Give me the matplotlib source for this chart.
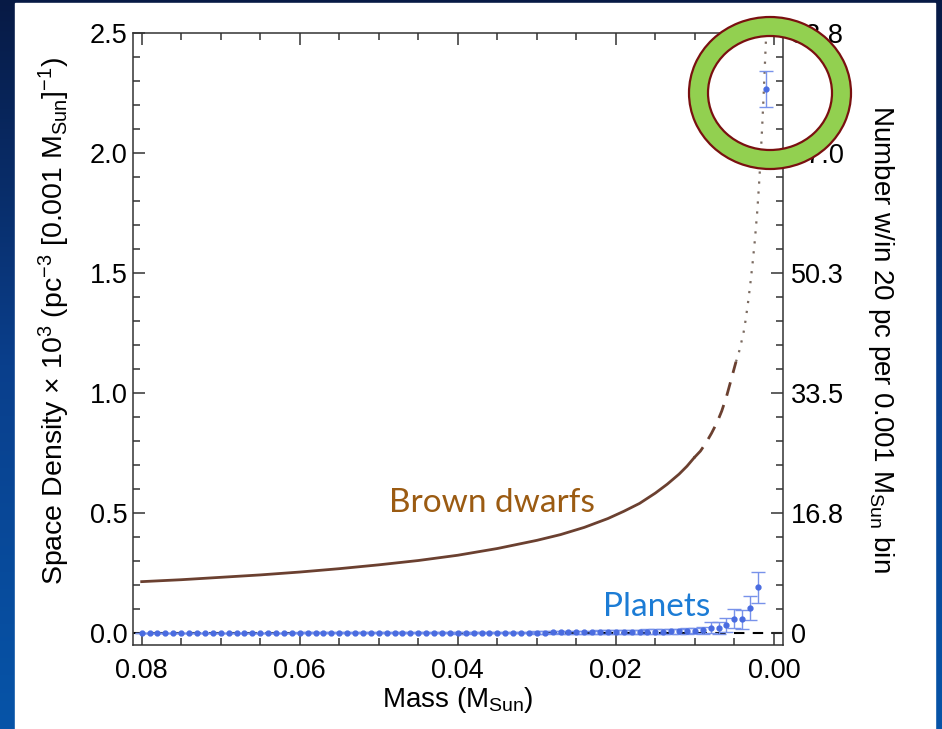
import numpy as np
import matplotlib
matplotlib.use("Agg")
import matplotlib.pyplot as plt
from matplotlib.patches import Annulus, Rectangle
from matplotlib.transforms import IdentityTransform

plt.rcParams['font.family'] = ['Liberation Sans', 'DejaVu Sans']
plt.rcParams['mathtext.fontset'] = 'custom'
plt.rcParams['mathtext.rm'] = 'Liberation Sans'
plt.rcParams['mathtext.it'] = 'Liberation Sans:italic'
plt.rcParams['mathtext.default'] = 'rm'

# ---- data ----
# brown dwarf model curve (mass in M_Sun, space density x 1e3)
bd_solid_mass = [0.080, 0.075, 0.070, 0.065, 0.060, 0.055, 0.050, 0.045, 0.040,
                 0.035, 0.030, 0.027, 0.024, 0.021, 0.019, 0.017, 0.015,
                 0.0135, 0.012, 0.011, 0.0101]
bd_solid_val = [0.214, 0.222, 0.232, 0.242, 0.254, 0.268, 0.284, 0.302, 0.324,
                0.352, 0.386, 0.410, 0.440, 0.477, 0.507, 0.540, 0.583,
                0.620, 0.662, 0.695, 0.730]
bd_dash_mass = [0.0101, 0.0093, 0.0086, 0.0079, 0.0072, 0.0066, 0.0060, 0.0055, 0.0048]
bd_dash_val = [0.730, 0.758, 0.792, 0.832, 0.877, 0.925, 0.985, 1.045, 1.130]
bd_dot_mass = [0.0048, 0.0045, 0.0042, 0.00385, 0.0036, 0.0033, 0.0030, 0.0027,
               0.0024, 0.0021, 0.0019, 0.0017, 0.0015, 0.0013, 0.0011, 0.00097]
bd_dot_val = [1.130, 1.160, 1.200, 1.250, 1.300, 1.370, 1.450, 1.540,
              1.640, 1.760, 1.860, 1.970, 2.100, 2.240, 2.400, 2.500]

# planets, one point per 0.001 M_Sun bin (0.080 ... 0.001)
planet_mass = np.round(np.arange(80, 0, -1) * 0.001, 3)
planet_val = [
    0.000, 0.000, 0.000, 0.000, 0.000, 0.000, 0.000, 0.000, 0.000, 0.000,
    0.000, 0.000, 0.000, 0.000, 0.000, 0.000, 0.000, 0.000, 0.000, 0.000,
    0.001, 0.001, 0.001, 0.001, 0.001, 0.001, 0.001, 0.001, 0.001, 0.001,
    0.001, 0.001, 0.001, 0.001, 0.001, 0.001, 0.001, 0.001, 0.001, 0.001,
    0.001, 0.001, 0.002, 0.002, 0.002, 0.002, 0.002, 0.002, 0.002, 0.002,
    0.002, 0.002, 0.003, 0.003, 0.003, 0.003, 0.003, 0.003, 0.004, 0.004,
    0.004, 0.004, 0.005, 0.005, 0.005, 0.006, 0.006, 0.007, 0.007, 0.008,
    0.010, 0.012, 0.022, 0.020, 0.033, 0.060, 0.057, 0.103, 0.190, 2.265,
]
planet_err = [
    0.002, 0.002, 0.002, 0.002, 0.002, 0.002, 0.002, 0.002, 0.002, 0.002,
    0.002, 0.002, 0.002, 0.002, 0.002, 0.002, 0.002, 0.002, 0.002, 0.002,
    0.003, 0.003, 0.003, 0.003, 0.003, 0.003, 0.003, 0.003, 0.003, 0.003,
    0.003, 0.003, 0.003, 0.003, 0.003, 0.003, 0.003, 0.003, 0.003, 0.003,
    0.004, 0.004, 0.004, 0.004, 0.004, 0.004, 0.004, 0.004, 0.004, 0.004,
    0.005, 0.005, 0.005, 0.006, 0.006, 0.006, 0.007, 0.007, 0.007, 0.008,
    0.008, 0.008, 0.009, 0.009, 0.010, 0.010, 0.010, 0.011, 0.011, 0.012,
    0.012, 0.015, 0.022, 0.025, 0.030, 0.040, 0.040, 0.050, 0.063, 0.075,
]

left_ticks = [0.0, 0.5, 1.0, 1.5, 2.0, 2.5]
left_ticklabels = ['0.0', '0.5', '1.0', '1.5', '2.0', '2.5']
right_ticklabels = ['0', '16.8', '33.5', '50.3', '67.0', '83.8']
x_ticks = [0.08, 0.06, 0.04, 0.02, 0.00]
x_ticklabels = ['0.08', '0.06', '0.04', '0.02', '0.00']

W, H = 942, 729
fig = plt.figure(figsize=(W / 100, H / 100), dpi=100)

# blue slide background with white panel
bg = fig.add_axes([0, 0, 1, 1], zorder=-10)
grad = np.linspace(0, 1, 256).reshape(-1, 1)
cmap = matplotlib.colors.LinearSegmentedColormap.from_list('slide', ['#071a45', '#0a3f8c', '#0654a8'])
bg.imshow(grad, aspect='auto', cmap=cmap, extent=[0, 1, 0, 1], origin='upper')
bg.add_patch(Rectangle((15 / W, 0), 920 / W, 1 - 3 / H, color='white', transform=bg.transAxes))
bg.set_xlim(0, 1)
bg.set_ylim(0, 1)
bg.axis('off')

ax = fig.add_axes([133 / W, 1 - 645 / H, 650 / W, 612 / H])
ax.patch.set_alpha(0)

# zero line
ax.plot([0.081, -0.0012], [0, 0], color='black', lw=1.5, ls=(0, (5, 4)), zorder=2)

# brown dwarfs
bd_col = '#6b4030'
ax.plot(bd_solid_mass, bd_solid_val, color=bd_col, lw=2.0, zorder=3)
ax.plot(bd_dash_mass, bd_dash_val, color=bd_col, lw=2.0, ls=(0, (5, 3.5)), zorder=3)
ax.plot(bd_dot_mass, bd_dot_val, color='#7a6a60', lw=1.6, ls=(0, (1, 3.5)), zorder=3)

# planets
ax.errorbar(planet_mass, planet_val, yerr=planet_err, fmt='o', color='#4a6ce0',
            ecolor='#7892ea', elinewidth=1.0, capsize=5, capthick=1.0,
            markersize=3.5, zorder=4)

ax.set_xlim(0.0811, -0.00115)
ax.set_ylim(-0.05, 2.5)
ax.set_xticks(x_ticks)
ax.set_xticklabels(x_ticklabels)
ax.set_xticks(np.round(np.arange(0.080, -0.0001, -0.005), 3), minor=True)
ax.set_yticks(left_ticks)
ax.set_yticklabels(left_ticklabels)
ax.set_yticks(np.round(np.arange(0, 2.51, 0.1), 2), minor=True)
ax.tick_params(which='both', direction='in', top=True, right=False,
               colors='#333333', width=1.1, labelcolor='black', labelsize=19.5)
ax.tick_params(which='major', length=8.5)
ax.tick_params(which='minor', length=5)
ax.tick_params(axis='x', pad=9)
ax.tick_params(axis='y', pad=4)
for s in ax.spines.values():
    s.set_color('#333333')
    s.set_linewidth(1.1)

ax.set_xlabel('Mass (M$_{\\mathrm{Sun}}$)', fontsize=20, labelpad=1)
ax.set_ylabel('Space Density \u00d7 10$^{3}$ (pc$^{-3}$ [0.001 M$_{\\mathrm{Sun}}$]$^{-1}$)',
              fontsize=20.5)
ax.yaxis.set_label_coords(-0.094, 0.53)

axr = ax.twinx()
axr.set_ylim(ax.get_ylim())
axr.set_yticks(left_ticks)
axr.set_yticklabels(right_ticklabels)
axr.set_yticks(np.round(np.arange(0, 2.51, 0.1), 2), minor=True)
axr.tick_params(which='both', direction='in', colors='#333333', width=1.1,
                labelcolor='black', labelsize=19.5, pad=6)
axr.tick_params(which='major', length=8.5)
axr.tick_params(which='minor', length=5)
for s in axr.spines.values():
    s.set_visible(False)
axr.set_ylabel('Number w/in 20 pc per 0.001 M$_{\\mathrm{Sun}}$ bin', fontsize=20,
               rotation=270, labelpad=37)

# labels
ax.text(0.0357, 0.54, 'Brown dwarfs', color='#9b5b12', fontsize=24,
        family=['Lato', 'DejaVu Sans'], ha='center', va='center')
ax.text(0.0149, 0.108, 'Planets', color='#1c7cd5', fontsize=24,
        family=['Lato', 'DejaVu Sans'], ha='center', va='center')

# green ring highlight (pixel coordinates)
ring = Annulus((770, H - 93), (81, 76), 19, facecolor='#92d050', edgecolor='#7a1010',
               linewidth=1.6, transform=IdentityTransform(), zorder=20)
fig.add_artist(ring)

fig.savefig('out.png', dpi=100)
